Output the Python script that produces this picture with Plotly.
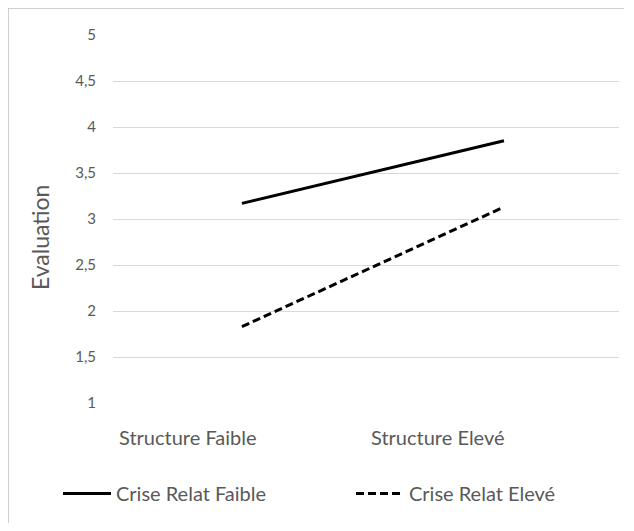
import plotly.graph_objects as go

categories = ["Structure Faible", "Structure Elevé"]
series_names = ["Crise Relat Faible", "Crise Relat Elevé"]
crise_faible = [3.17, 3.85]
crise_eleve = [1.83, 3.13]
y_ticks = [1, 1.5, 2, 2.5, 3, 3.5, 4, 4.5, 5]

W, H = 634, 531
OFF = 8  # page body margin in the browser
# target plot area in screen pixels
PX0, PX1, PY0, PY1 = 113, 619, 35, 403
L, T = PX0 - OFF, PY0 - OFF
R, B = W - (PX1 - OFF), H - (PY1 - OFF)
pw, ph = PX1 - PX0, PY1 - PY0

def px_x(p):
    return (p - PX0) / pw

def px_y(p):
    return (PY1 - p) / ph

FONT = "Lato"
gray = "#595959"

fig = go.Figure()
fig.add_trace(go.Scatter(x=categories, y=crise_faible, mode="lines", name=series_names[0],
                         line=dict(color="black", width=3)))
fig.add_trace(go.Scatter(x=categories, y=crise_eleve, mode="lines", name=series_names[1],
                         line=dict(color="black", width=3, dash="8px,4px")))

annotations = []
shifts = [-54, -66]
for c, s in zip(categories, shifts):
    annotations.append(dict(x=c, y=px_y(437), xref="x", yref="paper", text=c, showarrow=False,
                            xanchor="center", yanchor="middle",
                            xshift=s, font=dict(size=20, color=gray, family=FONT)))
annotations.append(dict(x=px_x(40), y=px_y(238), xref="paper", yref="paper", text="Evaluation",
                        xanchor="center", yanchor="middle",
                        textangle=-90, showarrow=False, font=dict(size=23, color=gray, family=FONT)))

shapes = [
    dict(type="line", xref="paper", yref="paper", x0=px_x(8), x1=px_x(8), y0=px_y(523), y1=px_y(8),
         line=dict(color="#bfbfbf", width=1.5)),
    dict(type="line", xref="paper", yref="paper", x0=px_x(8), x1=px_x(624), y0=px_y(8), y1=px_y(8),
         line=dict(color="#bfbfbf", width=1.5)),
]

fig.update_layout(
    width=W, height=H,
    margin=dict(l=L, r=R, t=T, b=B, pad=0, autoexpand=False),
    plot_bgcolor="white", paper_bgcolor="white",
    separators=", ",
    font=dict(family=FONT, color=gray),
    xaxis=dict(type="category", range=[-0.492, 1.439], showticklabels=False, showgrid=False,
               zeroline=False, showline=False, fixedrange=True),
    yaxis=dict(range=[1, 5], tickvals=y_ticks, showgrid=True, gridcolor="#d9d9d9", gridwidth=1,
               zeroline=False, showline=False, ticks="outside", ticklen=13, tickcolor="rgba(0,0,0,0)",
               tickfont=dict(size=15, color=gray, family=FONT)),
    showlegend=True,
    legend=dict(orientation="h", x=px_x(58), y=px_y(474), xanchor="left", yanchor="top",
                font=dict(size=20, color=gray, family=FONT),
                entrywidth=230, itemwidth=48, bgcolor="rgba(0,0,0,0)"),
    annotations=annotations,
    shapes=shapes,
)

fig.write_html("out.html")
